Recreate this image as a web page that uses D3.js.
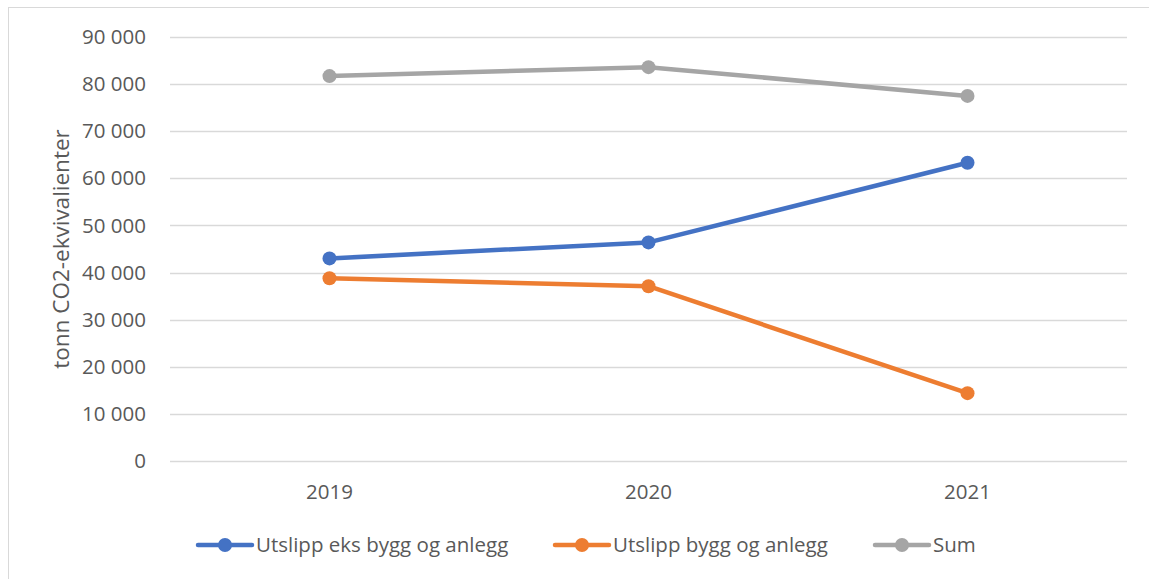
<!DOCTYPE html>
<html>
<head>
<meta charset="utf-8">
<script src="https://cdn.jsdelivr.net/npm/d3@7"></script>
<style>
  body { margin: 0; background: #fff; }
  svg { display: block; font-family: "Open Sans", sans-serif; }
</style>
</head>
<body>
<div id="chart"></div>
<script>
var width = 1149
var height = 579
var years = ["2019", "2020", "2021"];
var seriesNames = ["Utslipp eks bygg og anlegg", "Utslipp bygg og anlegg", "Sum"];
var eksBygg = [43000, 46400, 63300];
var bygg = [38800, 37100, 14400];
var sum = [81700, 83600, 77500];
var yTicks = [0, 10000, 20000, 30000, 40000, 50000, 60000, 70000, 80000, 90000];
var colors = ["#4472c4", "#ed7d31", "#a5a5a5"];
var textColor = "#595959";

var margin = {top: 37, right: 22, bottom: 118, left: 170};

var svg = d3.select("#chart").append("svg")
    .attr("width", width)
    .attr("height", height);

// chart border (right and bottom run off the picture)
svg.append("rect")
    .attr("x", 8.5)
    .attr("y", 7.5)
    .attr("width", width + 10)
    .attr("height", height + 10)
    .attr("fill", "none")
    .attr("stroke", "#d9d9d9");

var x = d3.scaleBand()
    .domain(years)
    .range([margin.left, width - margin.right]);

var y = d3.scaleLinear()
    .domain([0, 90000])
    .range([height - margin.bottom, margin.top]);

var fmt = function(d) { return d3.format(",")(d).replace(/,/g, " "); };

// grid
svg.append("g")
    .selectAll("line")
    .data(yTicks)
    .enter()
    .append("line")
    .attr("x1", margin.left)
    .attr("x2", width - margin.right)
    .attr("y1", function(d) { return Math.round(y(d)) + 0.5; })
    .attr("y2", function(d) { return Math.round(y(d)) + 0.5; })
    .attr("stroke", "#d9d9d9")
    .attr("stroke-width", 1.3);

// y axis labels
var yAxis = svg.append("g")
    .attr("transform", "translate(" + (margin.left - 21) + ",0)")
    .call(d3.axisLeft(y).tickValues(yTicks).tickFormat(fmt).tickSize(0));
yAxis.select(".domain").remove();
yAxis.selectAll("text")
    .attr("fill", textColor)
    .attr("font-size", 20.5)
    .attr("font-family", "Open Sans");

// x axis labels
var xAxis = svg.append("g")
    .attr("transform", "translate(0," + (height - margin.bottom + 20) + ")")
    .call(d3.axisBottom(x).tickSize(0));
xAxis.select(".domain").remove();
xAxis.selectAll("text")
    .attr("fill", textColor)
    .attr("font-size", 20.5)
    .attr("font-family", "Open Sans");

// axis title
svg.append("text")
    .attr("transform", "translate(69," + 249 + ") rotate(-90)")
    .attr("text-anchor", "middle")
    .attr("fill", textColor)
    .attr("font-size", 22.5)
    .text("tonn CO2-ekvivalienter");

var data = [eksBygg, bygg, sum];

var line = d3.line()
    .x(function(d, i) { return x(years[i]) + x.bandwidth() / 2; })
    .y(function(d) { return y(d); });

var series = svg.selectAll(".series")
    .data(data)
    .enter()
    .append("g")
    .attr("class", "series");

series.append("path")
    .attr("d", line)
    .attr("fill", "none")
    .attr("stroke", function(d, i) { return colors[i]; })
    .attr("stroke-width", 4.5)
    .attr("stroke-linecap", "round")
    .attr("stroke-linejoin", "round");

series.each(function(d, i) {
  d3.select(this).selectAll("circle")
      .data(d)
      .enter()
      .append("circle")
      .attr("cx", function(v, j) { return x(years[j]) + x.bandwidth() / 2; })
      .attr("cy", function(v) { return y(v); })
      .attr("r", 7)
      .attr("fill", colors[i]);
});

// legend
var legendX = [198, 555, 875];
var legend = svg.selectAll(".legend")
    .data(seriesNames)
    .enter()
    .append("g")
    .attr("class", "legend")
    .attr("transform", function(d, i) { return "translate(" + legendX[i] + ",545)"; });

legend.append("line")
    .attr("x1", 0)
    .attr("x2", 54)
    .attr("stroke", function(d, i) { return colors[i]; })
    .attr("stroke-width", 4.5)
    .attr("stroke-linecap", "round");

legend.append("circle")
    .attr("cx", 27)
    .attr("r", 7)
    .attr("fill", function(d, i) { return colors[i]; });

legend.append("text")
    .attr("x", 58)
    .attr("dy", "0.35em")
    .attr("fill", textColor)
    .attr("font-size", 20.5)
    .text(function(d) { return d; });
</script>
</body>
</html>
